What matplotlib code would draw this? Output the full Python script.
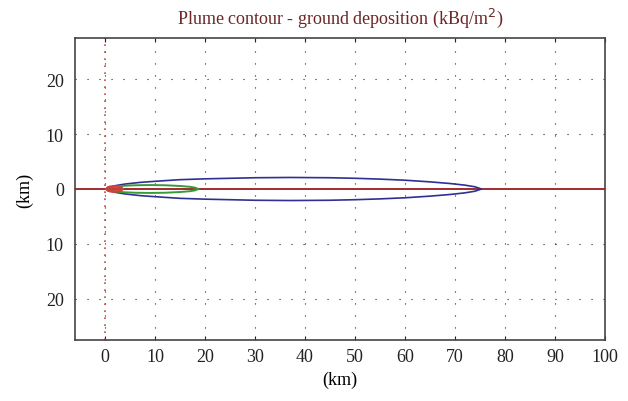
import numpy as np
import matplotlib.pyplot as plt

plt.rcParams['font.family'] = ['Liberation Serif', 'DejaVu Serif']

# contour outlines: downwind distance (km) and half-width (km)
blue_x = [0.5, 1, 2, 4, 7, 10, 15, 20, 25, 30, 37, 45, 50, 55, 60, 65, 69, 72, 74, 75.3]
blue_w = [0.0, 0.3, 0.6, 0.9, 1.2, 1.4, 1.7, 1.85, 1.95, 2.05, 2.1, 2.05, 1.95, 1.8, 1.6, 1.3, 1.0, 0.7, 0.4, 0.0]

green_x = [0.3, 1, 2, 4, 6, 9, 12, 15, 17, 18, 18.7]
green_w = [0.0, 0.3, 0.45, 0.6, 0.68, 0.72, 0.68, 0.55, 0.4, 0.25, 0.0]

red_x = [0.2, 0.6, 1, 1.6, 2.2, 2.8, 3.3, 3.6]
red_w = [0.0, 0.35, 0.45, 0.5, 0.48, 0.4, 0.25, 0.0]

x_ticks = [0, 10, 20, 30, 40, 50, 60, 70, 80, 90, 100]
y_ticks = [-20, -10, 0, 10, 20]
y_labels = ['20', '10', '0', '10', '20']

fig = plt.figure(figsize=(6.28, 4.02), dpi=100)
ax = fig.add_axes([75 / 628, 1 - 341 / 402, 530 / 628, 302 / 402])

# dotted grid
for xv in x_ticks:
    ax.axvline(xv, color='#222222', lw=0.8, ls=(0, (1, 9.8)), zorder=1)
for yv in y_ticks:
    if yv != 0:
        ax.axhline(yv, color='#222222', lw=0.8, ls=(0, (1, 9.8)), zorder=1)

# source line and plume axis
ax.axvline(0, color='#c04848', lw=1.2, ls=(0, (1, 3.2)), zorder=2)
ax.axhline(0, color='#9b1b1b', lw=1.3, zorder=3)

def outline(xs, ws, color, lw):
    xs = np.array(xs)
    ws = np.array(ws)
    px = np.concatenate([xs, xs[::-1]])
    py = np.concatenate([ws, -ws[::-1]])
    ax.plot(px, py, color=color, lw=lw, zorder=4)
    return px, py

outline(blue_x, blue_w, '#2e3192', 1.2)
outline(green_x, green_w, '#3a9a3a', 1.4)
rx, ry = outline(red_x, red_w, '#d0413a', 1.4)
ax.fill(rx, ry, color='#d0413a', alpha=0.8, zorder=4)

ax.set_xlim(-6, 100)
ax.set_ylim(-27.5, 27.5)
ax.set_xticks(x_ticks)
ax.set_yticks(y_ticks)
ax.set_yticklabels(y_labels)
ax.tick_params(direction='in', length=3, labelsize=13, colors='#222222',
               top=True, right=False, left=False)
ax.tick_params(axis='x', pad=6)
ax.tick_params(axis='y', pad=8)
for s in ax.spines.values():
    s.set_color('#444444')
    s.set_linewidth(1.2)

ax.set_xlabel('(km)', fontsize=13, labelpad=4)
ax.set_ylabel('(km)', fontsize=13, labelpad=9)
ax.set_title('Plume contour - ground deposition (kBq/m$^2$)', fontsize=13,
             color='#6b2626', pad=11)

fig.savefig('out.png', dpi=100)
